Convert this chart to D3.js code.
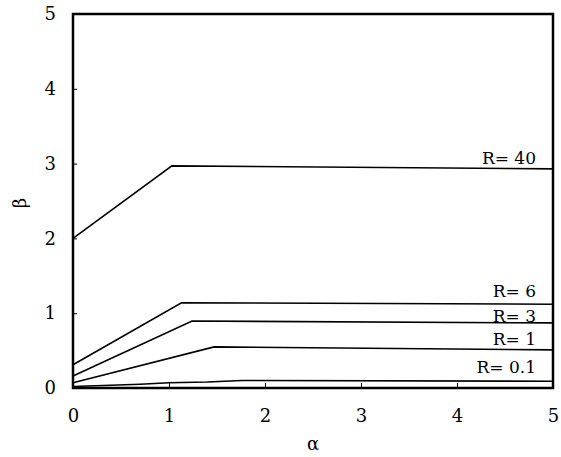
<!DOCTYPE html>
<html>
<head>
<meta charset="utf-8">
<script src="https://cdn.jsdelivr.net/npm/d3@7"></script>
<style>
  body { margin: 0; background: #fff; }
  text { font-family: "DejaVu Serif", "Liberation Serif", serif; fill: #000; }
</style>
</head>
<body>
<div id="chart"></div>
<script>
// alpha values where each curve is sampled, and beta values per curve
const r40Alpha = [0, 1.03, 5];
const r40Beta = [2.0, 2.97, 2.93];
const r6Alpha = [0, 1.13, 5];
const r6Beta = [0.31, 1.14, 1.12];
const r3Alpha = [0, 1.24, 5];
const r3Beta = [0.16, 0.895, 0.87];
const r1Alpha = [0, 1.47, 5];
const r1Beta = [0.07, 0.55, 0.51];
const r01Alpha = [0, 0.7, 1.0, 1.4, 1.76, 5];
const r01Beta = [0.02, 0.05, 0.07, 0.08, 0.1, 0.09];

const seriesNames = ["R= 40", "R= 6", "R= 3", "R= 1", "R= 0.1"];
const labelBeta = [2.99, 1.22, 0.885, 0.575, 0.2];
const xTicks = [0, 1, 2, 3, 4, 5];
const yTicks = [0, 1, 2, 3, 4, 5];

const series = [
  [r40Alpha, r40Beta],
  [r6Alpha, r6Beta],
  [r3Alpha, r3Beta],
  [r1Alpha, r1Beta],
  [r01Alpha, r01Beta],
].map(([a, b], i) => ({
  name: seriesNames[i],
  labelY: labelBeta[i],
  points: a.map((v, j) => ({ a: v, b: b[j] })),
}));

const width = 561;
const height = 457;
const margin = { top: 14, right: 8, bottom: 69, left: 73 };

const x = d3.scaleLinear().domain([0, 5]).range([margin.left, width - margin.right]);
const y = d3.scaleLinear().domain([0, 5]).range([height - margin.bottom, margin.top]);

const svg = d3.select("#chart")
  .append("svg")
  .attr("width", width)
  .attr("height", height);

// ticks point inward
svg.append("g")
  .attr("transform", `translate(0,${y(0)})`)
  .call(d3.axisBottom(x).tickValues(xTicks).tickFormat(d3.format("d"))
    .tickSizeInner(-5).tickSizeOuter(0).tickPadding(21))
  .call((g) => g.select(".domain").remove())
  .call((g) => g.selectAll("line").attr("stroke-width", 1))
  .call((g) => g.selectAll("text").attr("font-size", 18));

svg.append("g")
  .attr("transform", `translate(${x(0)},0)`)
  .call(d3.axisLeft(y).tickValues(yTicks).tickFormat(d3.format("d"))
    .tickSizeInner(-4).tickSizeOuter(0).tickPadding(17))
  .call((g) => g.select(".domain").remove())
  .call((g) => g.selectAll("line").attr("stroke-width", 1))
  .call((g) => g.selectAll("text").attr("font-size", 18));

const line = d3.line()
  .x((d) => x(d.a))
  .y((d) => y(d.b));

svg.append("g")
  .attr("fill", "none")
  .attr("stroke", "#000")
  .attr("stroke-width", 1.6)
  .selectAll("path")
  .data(series)
  .join("path")
  .attr("d", (d) => line(d.points));

svg.append("g")
  .attr("font-size", 17)
  .attr("text-anchor", "end")
  .selectAll("text")
  .data(series)
  .join("text")
  .attr("x", x(5) - 17)
  .attr("y", (d) => y(d.labelY))
  .text((d) => d.name);

// frame
svg.append("rect")
  .attr("x", x(0))
  .attr("y", y(5))
  .attr("width", x(5) - x(0))
  .attr("height", y(0) - y(5))
  .attr("fill", "none")
  .attr("stroke", "#000")
  .attr("stroke-width", 2.5);

svg.append("text")
  .attr("transform", `translate(26,${y(2.5) + 2}) rotate(-90)`)
  .attr("text-anchor", "middle")
  .attr("font-size", 18)
  .text("β");

svg.append("text")
  .attr("x", (x(0) + x(5)) / 2)
  .attr("y", 450)
  .attr("text-anchor", "middle")
  .attr("font-size", 18)
  .text("α");
</script>
</body>
</html>
